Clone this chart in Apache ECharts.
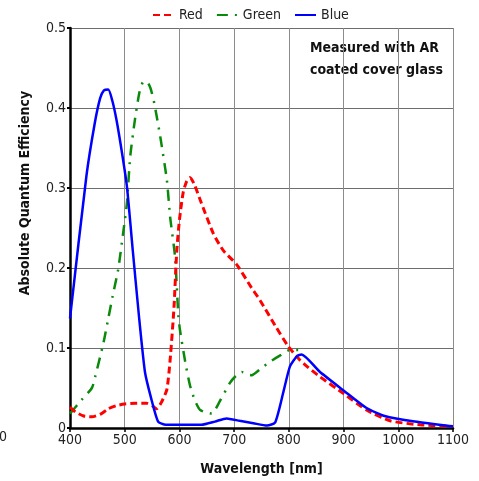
<!DOCTYPE html>
<html>
<head>
<meta charset="utf-8">
<script src="https://cdn.jsdelivr.net/npm/echarts@6/dist/echarts.min.js"></script>
<style>
html,body{margin:0;padding:0;background:#fff;}
#chart{width:479px;height:481px;}
</style>
</head>
<body>
<div id="chart"></div>
<script>
var xTicks = [400, 500, 600, 700, 800, 900, 1000, 1100];
var yTicks = [0, 0.1, 0.2, 0.3, 0.4, 0.5];

var redWl = [400,410,425,440,455,470,485,500,520,540,550,558,567,577,583,590,595,600,607,613,619,627,638,662,680,705,732,747,775,799,820,833,857,900,942,985,1040,1100];
var redQE = [0.026,0.020,0.015,0.014,0.017,0.024,0.028,0.030,0.031,0.031,0.028,0.024,0.032,0.048,0.085,0.150,0.220,0.260,0.295,0.308,0.313,0.305,0.285,0.243,0.222,0.204,0.175,0.160,0.128,0.102,0.085,0.077,0.064,0.043,0.0225,0.009,0.004,0.002];

var greenWl = [400,421,440,446,461,470,478,488,497,504,510,519,527,533,540,547,554,565,577,583,592,598,601,610,619,628,638,659,675,692,703,714,723,732,750,766,785,802,817];
var greenQE = [0.018,0.035,0.050,0.064,0.106,0.137,0.165,0.198,0.243,0.281,0.339,0.387,0.420,0.432,0.433,0.425,0.406,0.364,0.310,0.264,0.214,0.141,0.1225,0.085,0.054,0.035,0.0225,0.018,0.035,0.056,0.065,0.070,0.067,0.066,0.075,0.083,0.091,0.0975,0.0975];

var blueWl = [400,430,445,455,462,470,477,485,495,504,515,526,537,548,561,575,640,665,686,710,735,760,775,790,802,815,823,857,900,942,975,1030,1100];
var blueQE = [0.137,0.315,0.380,0.412,0.422,0.423,0.410,0.385,0.344,0.302,0.220,0.140,0.070,0.038,0.008,0.004,0.004,0.008,0.012,0.009,0.006,0.003,0.007,0.045,0.077,0.090,0.092,0.070,0.047,0.025,0.015,0.008,0.002];

var seriesNames = ['Red', 'Green', 'Blue'];
var yAxisTitle = 'Absolute Quantum Efficiency';
var xAxisTitle = 'Wavelength [nm]';
var noteLines = ['Measured with AR', 'coated cover glass'];

function pairs(xs, ys) { return xs.map(function (x, i) { return [x, ys[i]]; }); }

var FONT = "'DejaVu Sans Condensed', 'DejaVu Sans', sans-serif";
var chart = echarts.init(document.getElementById('chart'));
chart.setOption({
  animation: false,
  backgroundColor: '#fff',
  textStyle: { fontFamily: FONT },
  legend: {
    top: 3,
    left: 147,
    itemWidth: 21,
    itemHeight: 10,
    itemGap: 13,
    itemStyle: { opacity: 0 },
    textStyle: { fontFamily: FONT, fontSize: 14, color: '#222' },
    data: seriesNames
  },
  grid: { left: 70, right: 26, top: 28, bottom: 53, containLabel: false },
  xAxis: {
    type: 'value',
    min: xTicks[0], max: xTicks[xTicks.length - 1], interval: 100,
    name: xAxisTitle,
    nameLocation: 'middle',
    nameGap: 34,
    nameTextStyle: { fontFamily: FONT, fontSize: 14, fontWeight: 'bold', color: '#111' },
    axisLine: { show: true, onZero: false, lineStyle: { color: '#000', width: 2.5 } },
    axisTick: { show: true, length: 4, lineStyle: { color: '#000', width: 1.5 } },
    axisLabel: { fontFamily: FONT, fontSize: 14, color: '#222', margin: 5, formatter: function (v) { return String(v); } },
    splitLine: { show: true, lineStyle: { color: '#8c8c8c', width: 1 } }
  },
  yAxis: {
    type: 'value',
    min: yTicks[0], max: yTicks[yTicks.length - 1], interval: 0.1,
    axisLine: { show: true, lineStyle: { color: '#000', width: 2.5 } },
    axisTick: { show: true, length: 3, lineStyle: { color: '#000', width: 2 } },
    axisLabel: { fontFamily: FONT, fontSize: 14, color: '#222', margin: 4 },
    splitLine: { show: true, lineStyle: { color: '#6e6e6e', width: 1 } }
  },
  graphic: [
    {
      type: 'text', left: 310, top: 37,
      style: { text: noteLines.join('\n'), font: 'bold 14px ' + FONT, fill: '#111', lineHeight: 22, align: 'center' }
    },
    {
      type: 'text', x: 25, y: 193, rotation: Math.PI / 2,
      style: { text: yAxisTitle, font: 'bold 14px ' + FONT, fill: '#111', align: 'center', verticalAlign: 'middle' }
    },
    {
      type: 'text', x: 7, y: 437,
      style: { text: '300', font: '14px ' + FONT, fill: '#222', align: 'right', verticalAlign: 'middle' }
    }
  ],
  series: [
    {
      name: 'Red', type: 'line', symbol: 'none', smooth: 0.2,
      data: pairs(redWl, redQE), z: 3,
      itemStyle: { color: '#ff0000' },
      lineStyle: { color: '#ff0000', width: 3, type: [7, 4] }
    },
    {
      name: 'Green', type: 'line', symbol: 'none', smooth: 0.2,
      data: pairs(greenWl, greenQE), z: 2,
      itemStyle: { color: '#0a8a0a' },
      lineStyle: { color: '#0a8a0a', width: 2.5, type: [11, 7, 2, 7] }
    },
    {
      name: 'Blue', type: 'line', symbol: 'none', smooth: 0.2,
      data: pairs(blueWl, blueQE), z: 4,
      itemStyle: { color: '#0000ff' },
      lineStyle: { color: '#0000ff', width: 2.5, type: 'solid' }
    }
  ]
});
</script>
</body>
</html>
